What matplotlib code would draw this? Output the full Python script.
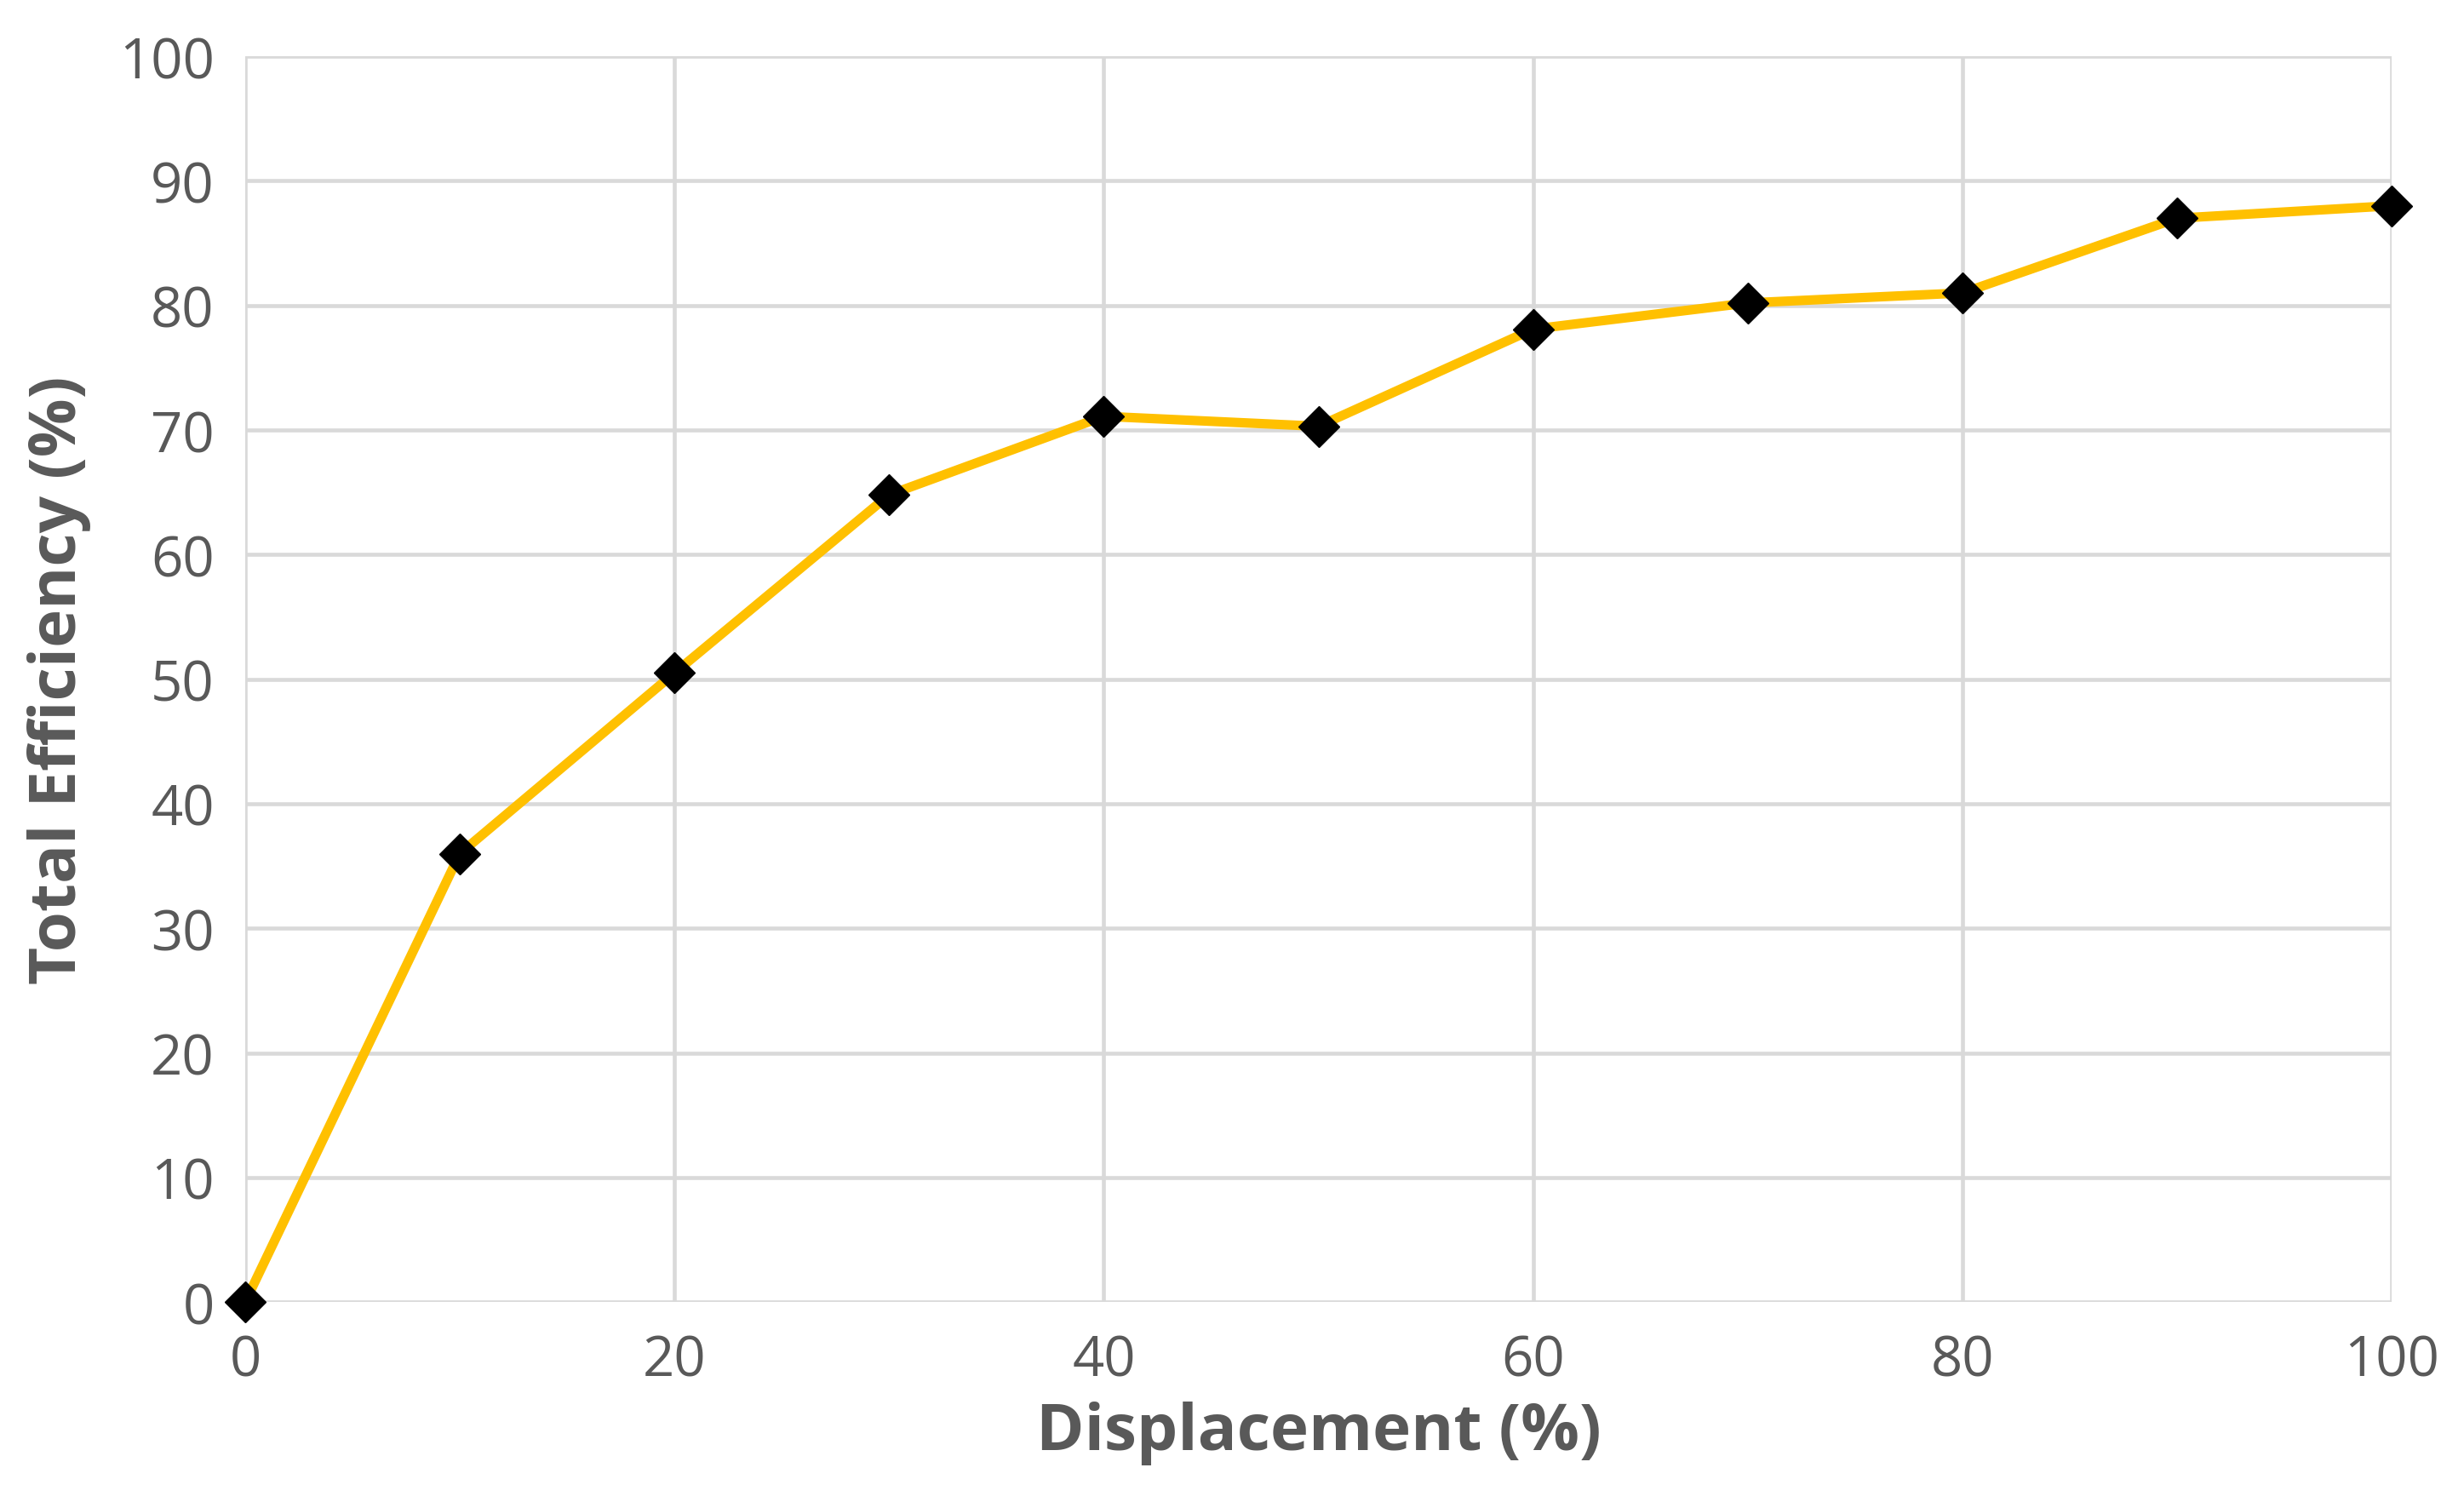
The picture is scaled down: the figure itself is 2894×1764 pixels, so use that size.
import matplotlib.pyplot as plt

displacement = [0, 10, 20, 30, 40, 50, 60, 70, 80, 90, 100]
efficiency = [0, 36, 50.5, 64.8, 71.1, 70.3, 78.1, 80.2, 81, 87, 88]

plt.rcParams['font.family'] = ['Open Sans', 'DejaVu Sans']
gray = '#595959'

fig = plt.figure(figsize=(28.94, 17.65), dpi=100)
ax = fig.add_axes([0.0995, 0.133, 0.8712, 0.829])
ax.plot(displacement, efficiency, color='#FFC000', lw=8, zorder=3, clip_on=False)
ax.plot(displacement, efficiency, 'D', color='black', ms=24, zorder=4, clip_on=False)

ax.set_xlim(0, 100)
ax.set_ylim(0, 100)
ax.set_xticks(range(0, 101, 20))
ax.set_yticks(range(0, 101, 10))
ax.grid(True, color='#D9D9D9', lw=3.3, zorder=0)
for s in ax.spines.values():
    s.set_visible(False)
ax.tick_params(length=0, labelsize=47, labelcolor=gray, pad=26)
ax.set_xlabel('Displacement (%)', fontsize=55, fontweight='bold', color=gray, labelpad=10)
ax.set_ylabel('Total Efficiency (%)', fontsize=55, fontweight='bold', color=gray, labelpad=24)

fig.savefig('out.png')
